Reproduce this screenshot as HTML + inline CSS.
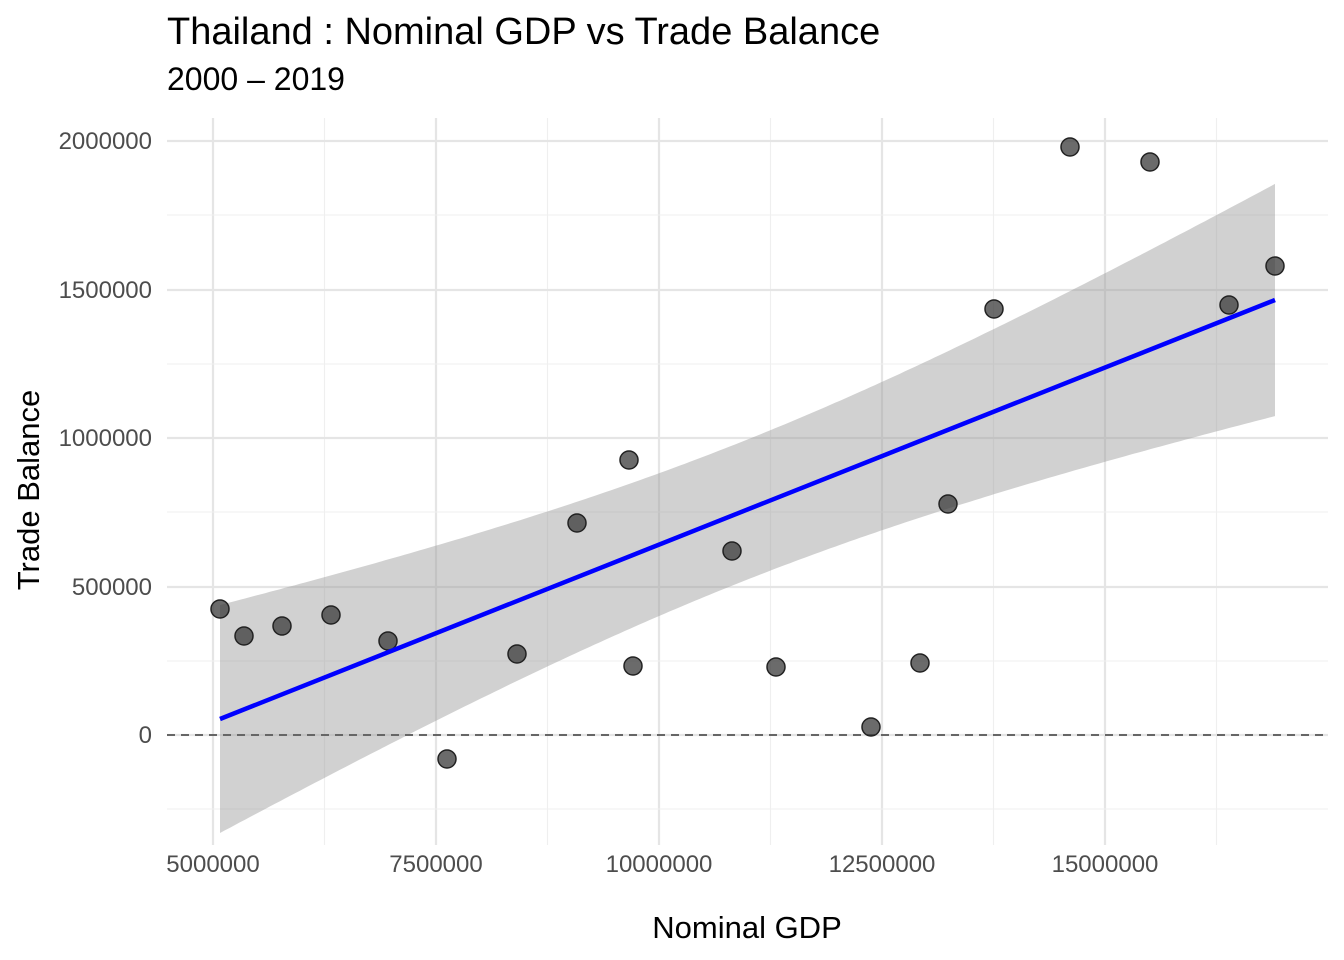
<!DOCTYPE html>
<html><head><meta charset="utf-8"><style>
html,body{margin:0;padding:0;background:#fff;}
svg{display:block;font-family:"Liberation Sans",Arial,sans-serif;}
</style></head><body>
<svg id="s" width="1344" height="960" xmlns="http://www.w3.org/2000/svg">
<rect width="1344" height="960" fill="#fff"/>
<g id="grid"></g>
<path id="band" fill="#999" fill-opacity="0.45" stroke="none"/>
<line x1="167" y1="735" x2="1328" y2="735" stroke="#666" stroke-width="2" stroke-dasharray="8,6"/>
<g id="pts"></g>
<line x1="220" y1="719" x2="1275" y2="300" stroke="#0000ff" stroke-width="4.5"/>
<g fill="#4d4d4d" font-size="24" text-anchor="end">
<text x="152" y="149">2000000</text>
<text x="152" y="298">1500000</text>
<text x="152" y="446">1000000</text>
<text x="152" y="595">500000</text>
<text x="152" y="743">0</text>
</g>
<g fill="#4d4d4d" font-size="24" text-anchor="middle">
<text x="213" y="872">5000000</text>
<text x="436" y="872">7500000</text>
<text x="659" y="872">10000000</text>
<text x="882" y="872">12500000</text>
<text x="1105" y="872">15000000</text>
</g>
<text x="747" y="938" font-size="31" text-anchor="middle" fill="#000">Nominal GDP</text>
<text transform="translate(39,490) rotate(-90)" font-size="31" text-anchor="middle" fill="#000">Trade Balance</text>
<text x="167" y="44" font-size="38" fill="#000">Thailand : Nominal GDP vs Trade Balance</text>
<text x="167" y="90" font-size="32" fill="#000">2000 – 2019</text>
</svg>
<script>
var ns="http://www.w3.org/2000/svg";
function el(p,t,a){var e=document.createElementNS(ns,t);for(var k in a)e.setAttribute(k,a[k]);p.appendChild(e);return e;}
var g=document.getElementById("grid");
[213,436,659,882,1105].forEach(function(x){el(g,"line",{x1:x,y1:118,x2:x,y2:845,stroke:"#e5e5e5","stroke-width":2.2});});
[324.5,547.5,770.5,993.5,1216.5].forEach(function(x){el(g,"line",{x1:x,y1:118,x2:x,y2:845,stroke:"#efefef","stroke-width":1.1});});
[141,290,438,587,735].forEach(function(y){el(g,"line",{x1:167,y1:y,x2:1328,y2:y,stroke:"#e5e5e5","stroke-width":2.2});});
[215,364,512,661,809].forEach(function(y){el(g,"line",{x1:167,y1:y,x2:1328,y2:y,stroke:"#efefef","stroke-width":1.1});});
var up=[],lo=[];
for(var x=220;x<=1275;x+=5){var c=719-(x-220)*419/1055;var h=Math.sqrt(4900+0.02994*(x-740)*(x-740));up.push(x+","+(c-h).toFixed(1));lo.unshift(x+","+(c+h).toFixed(1));}
document.getElementById("band").setAttribute("d","M"+up.join("L")+"L"+lo.join("L")+"Z");
var P=[[220,609],[244,636],[282,626],[331,615],[388,641],[447,759],[517,654],[577,523],[629,460],[633,666],[732,551],[776,667],[871,727],[920,663],[948,504],[994,309],[1070,147],[1150,162],[1229,305],[1275,266]];
var pg=document.getElementById("pts");
P.forEach(function(p){el(pg,"circle",{cx:p[0],cy:p[1],r:9,fill:"#3a3a3a","fill-opacity":0.75,stroke:"#222","stroke-width":1.5});});
</script>
</body></html>
